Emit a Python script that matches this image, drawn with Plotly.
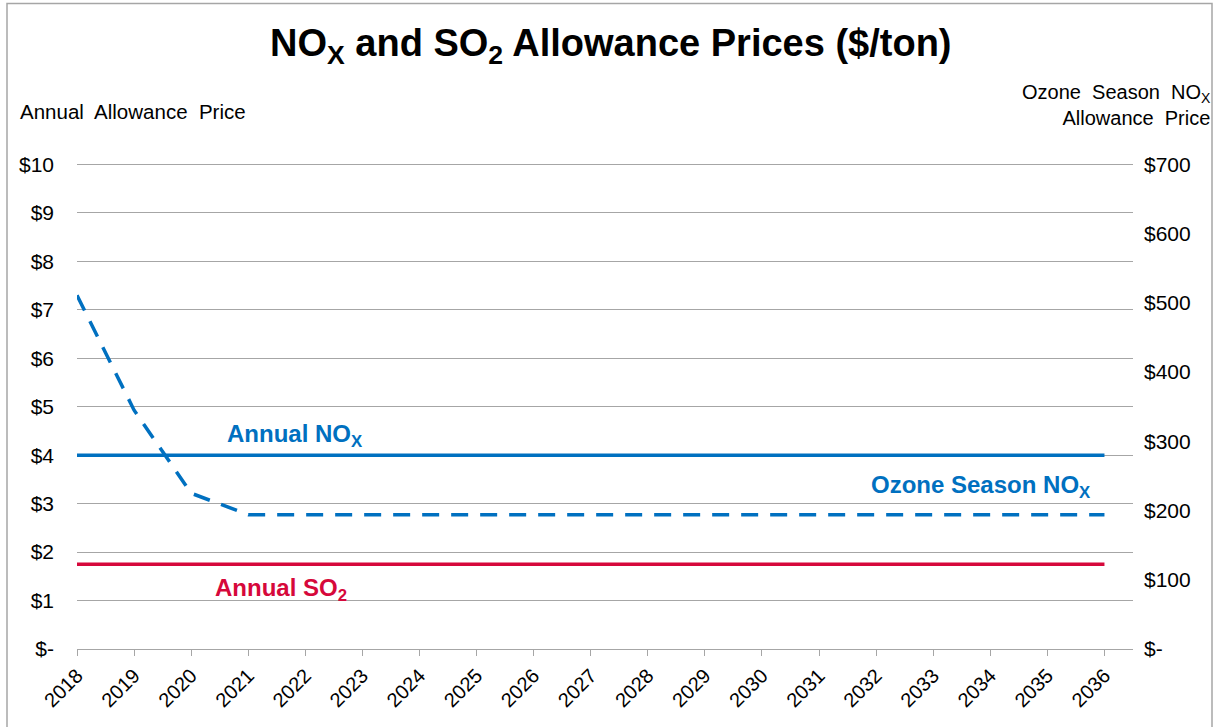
import plotly.graph_objects as go

years = [2018, 2019, 2020, 2021, 2022, 2023, 2024, 2025, 2026, 2027,
         2028, 2029, 2030, 2031, 2032, 2033, 2034, 2035, 2036]
annual_nox = [4.0, 4.0, 4.0, 4.0, 4.0, 4.0, 4.0, 4.0, 4.0, 4.0,
              4.0, 4.0, 4.0, 4.0, 4.0, 4.0, 4.0, 4.0, 4.0]
annual_so2 = [1.75, 1.75, 1.75, 1.75, 1.75, 1.75, 1.75, 1.75, 1.75, 1.75,
              1.75, 1.75, 1.75, 1.75, 1.75, 1.75, 1.75, 1.75, 1.75]
ozone_nox = [511, 345, 225, 194, 194, 194, 194, 194, 194, 194,
             194, 194, 194, 194, 194, 194, 194, 194, 194]

left_tickvals = [0, 1, 2, 3, 4, 5, 6, 7, 8, 9, 10]
left_ticktext = ["$-", "$1", "$2", "$3", "$4", "$5", "$6", "$7", "$8", "$9", "$10"]
right_tickvals = [0, 100, 200, 300, 400, 500, 600, 700]
right_ticktext = ["$-", "$100", "$200", "$300", "$400", "$500", "$600", "$700"]

BLUE = "#0070C0"
RED = "#D6083B"
FONT = "Liberation Sans, Arial, sans-serif"

# plot area in pixels (top padded slightly so the $10 gridline is drawn)
W, H = 1215, 727
L, R, B = 77, 1133, 648.7
UNIT = 48.47           # pixels per $1 on left axis
YMAX = 10.05
T = B - UNIT * YMAX
PW, PH = R - L, B - T


def px(x):
    return (x - L) / PW


def py(y):
    return (B - y) / PH


fig = go.Figure()
fig.add_trace(go.Scatter(x=years, y=annual_nox, mode="lines",
                         line=dict(color=BLUE, width=3.5), yaxis="y", showlegend=False))
fig.add_trace(go.Scatter(x=years, y=annual_so2, mode="lines",
                         line=dict(color=RED, width=3.5), yaxis="y", showlegend=False))
fig.add_trace(go.Scatter(x=years, y=ozone_nox, mode="lines",
                         line=dict(color=BLUE, width=3.5, dash="17px,12px"), yaxis="y2",
                         showlegend=False))

fig.update_layout(
    width=W, height=H,
    margin=dict(l=L, r=W - R, t=T, b=H - B, pad=0),
    paper_bgcolor="white", plot_bgcolor="white",
    font=dict(family=FONT, size=20, color="black"),
    xaxis=dict(range=[2018, 2036.5], tickvals=years, tickangle=-45,
               showgrid=False, zeroline=False, showline=True, linecolor="#A6A6A6",
               linewidth=1, ticks="outside", ticklen=6, tickcolor="#A6A6A6",
               tickfont=dict(size=20), automargin=False, fixedrange=True),
    yaxis=dict(range=[0, YMAX], tickvals=left_tickvals, ticktext=left_ticktext,
               showgrid=True, gridcolor="#A6A6A6", gridwidth=1, zeroline=False,
               showline=False, ticks="", ticklabelstandoff=22, automargin=False,
               tickfont=dict(size=21)),
    yaxis2=dict(range=[0, YMAX * 70], tickvals=right_tickvals, ticktext=right_ticktext,
                overlaying="y", side="right", showgrid=False, zeroline=False,
                showline=False, ticks="", ticklabelstandoff=10, automargin=False,
                tickfont=dict(size=21)),
)

fig.add_annotation(text="<b>NO<sub>X</sub> and SO<sub>2</sub> Allowance Prices ($/ton)</b>",
                   xref="paper", yref="paper", x=px(611), y=py(46),
                   xanchor="center", yanchor="middle", showarrow=False,
                   font=dict(size=38, color="black"))
fig.add_annotation(text="Annual  Allowance  Price", xref="paper", yref="paper",
                   x=px(18), y=py(111), xanchor="left",
                   yanchor="middle", showarrow=False, font=dict(size=20.5))
fig.add_annotation(text="Ozone  Season  NO<sub>X</sub><br>Allowance  Price",
                   xref="paper", yref="paper", align="right",
                   x=px(1213), y=py(105), xanchor="right",
                   yanchor="middle", showarrow=False, font=dict(size=20))
fig.add_annotation(text="<b>Annual NO<sub>X</sub></b>", x=2020.6, y=4.4,
                   xanchor="left", yanchor="middle", showarrow=False,
                   font=dict(size=24, color=BLUE))
fig.add_annotation(text="<b>Ozone Season NO<sub>X</sub></b>", x=2035.8, y=3.36,
                   xanchor="right", yanchor="middle", showarrow=False,
                   font=dict(size=24, color=BLUE))
fig.add_annotation(text="<b>Annual SO<sub>2</sub></b>", x=2020.38, y=1.22,
                   xanchor="left", yanchor="middle", showarrow=False,
                   font=dict(size=24, color=RED))

fig.add_shape(type="rect", xref="paper", yref="paper",
              x0=px(7), x1=px(1212), y0=py(760), y1=py(3),
              line=dict(color="#A6A6A6", width=1.5), fillcolor="rgba(0,0,0,0)",
              layer="above")

fig.write_html("out.html", config={"displayModeBar": False},
               post_script="document.body.style.margin='0';document.body.style.padding='0';")
